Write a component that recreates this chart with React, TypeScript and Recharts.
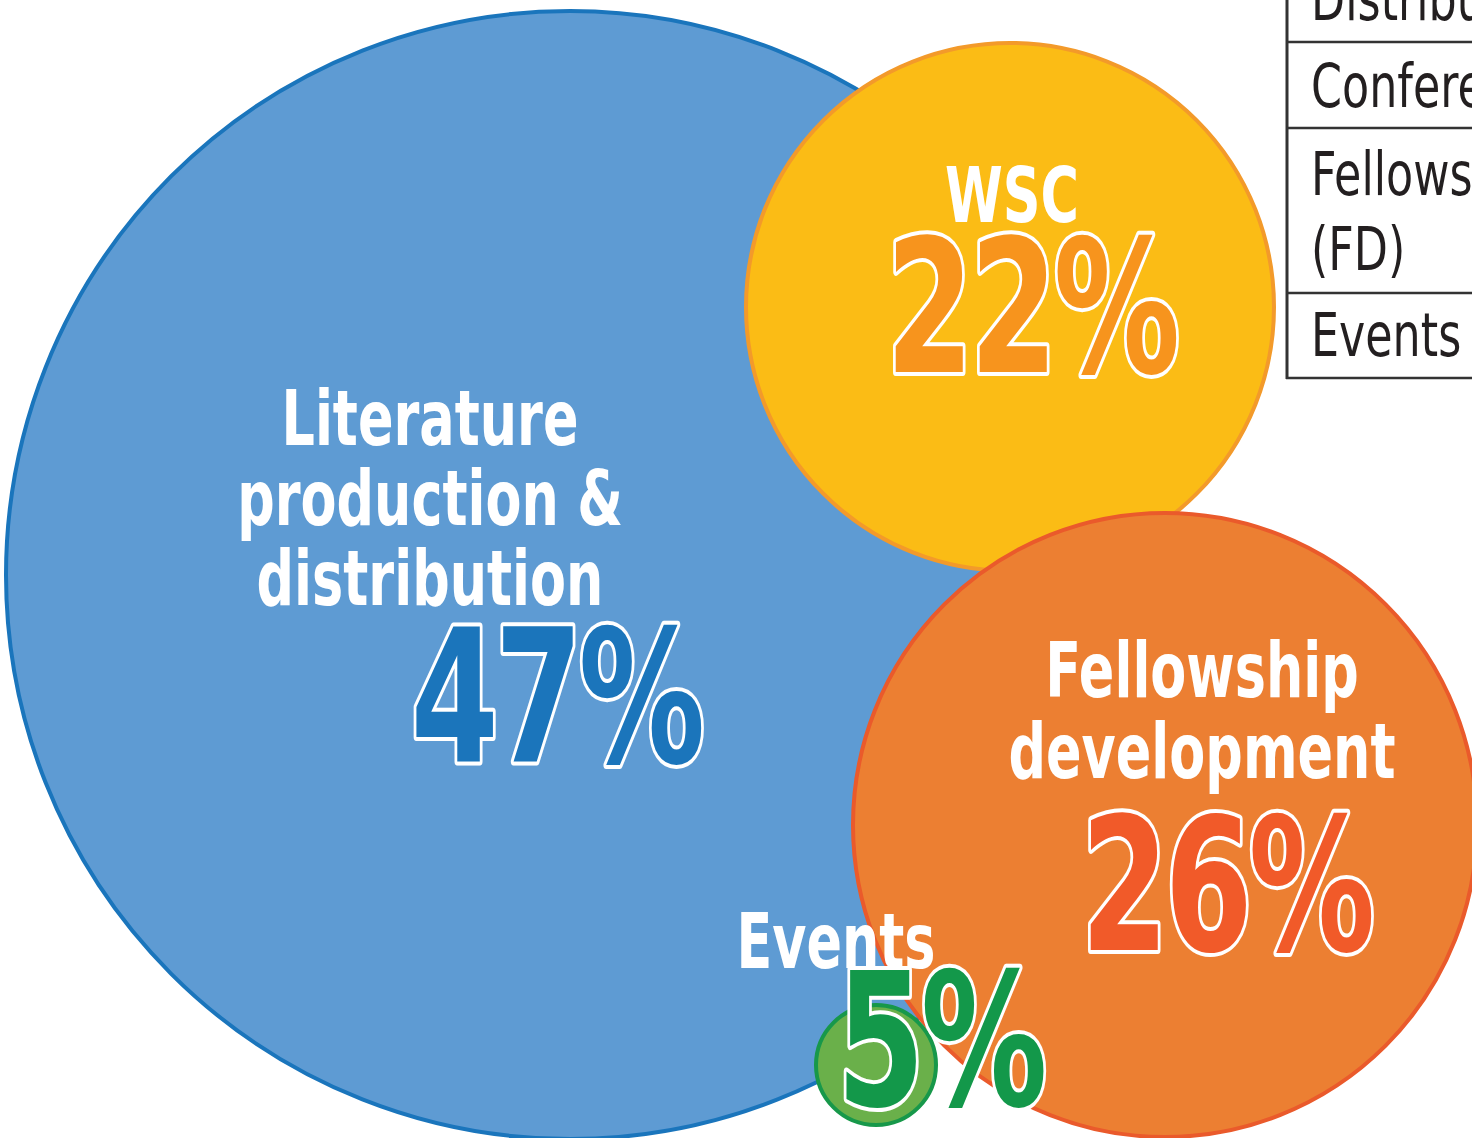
import React from 'react'
import { ScatterChart, Scatter, XAxis, YAxis, ZAxis } from 'recharts'

// Budget shares (%) by area
const categories = ['Literature production & distribution', 'WSC', 'Fellowship development', 'Events']
const shares = [47, 22, 26, 5]
// bubble centres in the chart's 0..1472 / 0..1138 coordinate space
const bubbleX = [570, 1010, 1165, 876]
const bubbleY = [575, 307, 825, 1065]
const titleLines = [['Literature', 'production &', 'distribution'], ['WSC'], ['Fellowship', 'development'], ['Events']]

// legend table rows (cut off at the right edge in the original)
const tableRows = [['Distribution'], ['Conference'], ['Fellowship development', '(FD)'], ['Events']]

const W = 1472
const H = 1138
const FONT = "'DejaVu Sans', 'Liberation Sans', sans-serif"

const styles = [
  { fill: '#5e9bd3', stroke: '#1a75bc', pct: '#1b75bb', title: { dx: -140, dy: -130, lh: 80 }, num: { dx: -14, dy: 187 } },
  { fill: '#fbbc15', stroke: '#f39a2a', pct: '#f7941d', title: { dx: 2, dy: -85, lh: 80 }, num: { dx: 21, dy: 65 } },
  { fill: '#ec7f32', stroke: '#ea5a2b', pct: '#f15a29', title: { dx: 37, dy: -128, lh: 81 }, num: { dx: 61, dy: 125 } },
  { fill: '#6ab04a', stroke: '#17984a', pct: '#13984a', title: { dx: -40, dy: -97, lh: 80 }, num: { dx: 64, dy: 40 } },
]

const data = categories.map((name, i) => ({
  name,
  x: bubbleX[i],
  y: bubbleY[i],
  share: shares[i],
  lines: titleLines[i],
  idx: i,
}))

// condensed look: squeeze a normal font horizontally
const Narrow = ({ x, y, sx, children, ...rest }: any) => (
  <g transform={`translate(${x},${y}) scale(${sx},1)`}>
    <text x={0} y={0} {...rest}>
      {children}
    </text>
  </g>
)

// size comes out of the ZAxis scale; used directly as radius
const Bubble = (props: any) => {
  const { cx, cy, size, payload } = props
  const s = styles[payload.idx]
  return <circle cx={cx} cy={cy} r={size} fill={s.fill} stroke={s.stroke} strokeWidth={4} />
}

const BubbleLabel = (props: any) => {
  const { cx, cy, payload } = props
  const s = styles[payload.idx]
  return (
    <g>
      {payload.lines.map((line: string, k: number) => (
        <Narrow
          key={k}
          x={cx + s.title.dx}
          y={cy + s.title.dy + k * s.title.lh}
          sx={0.69}
          textAnchor="middle"
          fontFamily={FONT}
          fontWeight="bold"
          fontSize={76}
          fill="#fff"
        >
          {line}
        </Narrow>
      ))}
      <Narrow
        x={cx + s.num.dx}
        y={cy + s.num.dy}
        sx={0.68}
        textAnchor="middle"
        fontFamily={FONT}
        fontWeight="bold"
        fontSize={186}
        fill={s.pct}
        stroke="#fff"
        strokeWidth={8}
        strokeLinejoin="round"
        paintOrder="stroke"
        letterSpacing={-6}
      >
        {payload.share}%
      </Narrow>
    </g>
  )
}

function LegendTable() {
  const lines = [42, 128, 293, 378]
  const baselines = [[20], [107], [195, 270], [356]]
  return (
    <svg width={W} height={H} style={{ position: 'absolute', left: 0, top: 0, pointerEvents: 'none' }}>
      <line x1={1287} y1={0} x2={1287} y2={379} stroke="#333" strokeWidth={3} />
      {lines.map((y) => (
        <line key={y} x1={1286} y1={y} x2={W} y2={y} stroke="#333" strokeWidth={2.5} />
      ))}
      {tableRows.map((row, r) =>
        row.map((t, k) => (
          <Narrow key={r + '-' + k} x={1311} y={baselines[r][k]} sx={0.74} fontFamily={FONT} fontSize={60} fill="#231f20">
            {t}
          </Narrow>
        ))
      )}
    </svg>
  )
}

export default function App() {
  return (
    <div style={{ position: 'absolute', left: 0, top: 0, width: W, height: H, overflow: 'hidden', background: '#fff' }}>
      <ScatterChart width={W} height={H} margin={{ top: 0, right: 0, bottom: 0, left: 0 }}>
        <XAxis type="number" dataKey="x" domain={[0, W]} hide />
        <YAxis type="number" dataKey="y" domain={[0, H]} reversed hide />
        <ZAxis type="number" dataKey="share" domain={[0, 100]} range={[0, 1200]} />
        <Scatter data={data} shape={<Bubble />} isAnimationActive={false} />
        <Scatter data={data} shape={<BubbleLabel />} isAnimationActive={false} />
      </ScatterChart>
      <LegendTable />
    </div>
  )
}
